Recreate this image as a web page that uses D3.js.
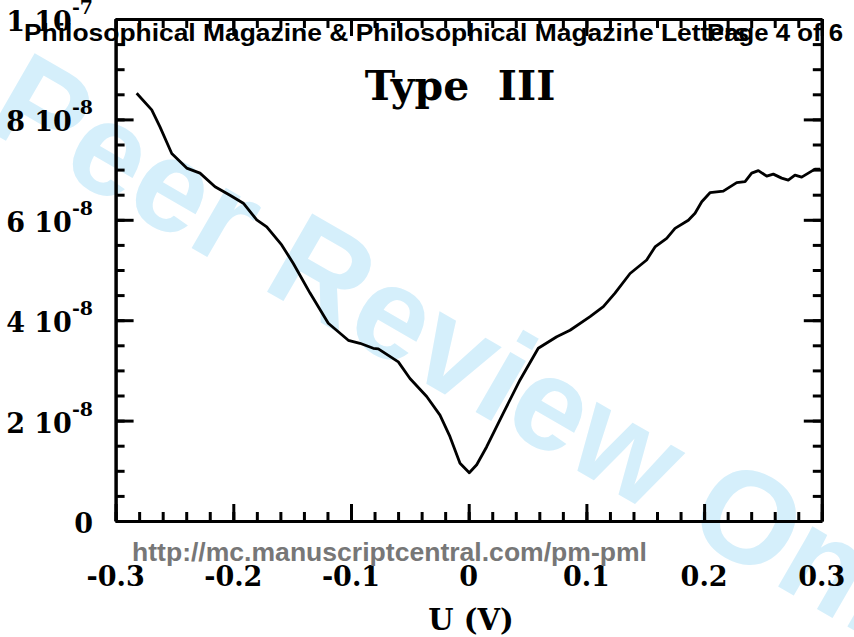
<!DOCTYPE html>
<html lang="en">
<head>
  <meta charset="UTF-8">
  <title>Type III</title>
  <script src="https://d3js.org/d3.v7.min.js"></script>
  <style>
    body { margin: 0; background: #fff; }
    svg { display: block; }
    .tick-label { font-family: "DejaVu Serif", serif; font-weight: bold; font-size: 27px; fill: #000; }
    .sans { font-family: "Liberation Sans", Arial, sans-serif; font-weight: bold; }
  </style>
</head>
<body>
  <div id="chart"></div>

  <script>
    // Data (current in A, voltage in V)
    const voltage = [-0.2821, -0.2693, -0.2623, -0.2523, -0.2396, -0.2283, -0.2155, -0.2028, -0.1915, -0.1801,
      -0.1716, -0.1589, -0.1490, -0.1348, -0.1193, -0.1023, -0.0924, -0.0811, -0.0768, -0.0598,
      -0.0499, -0.0357, -0.0244, -0.0159, -0.0074, 0.0005, 0.0068, 0.0153, 0.0294, 0.0436,
      0.0591, 0.0748, 0.0861, 0.1031, 0.1144, 0.1243, 0.1371, 0.1512, 0.1583, 0.1682,
      0.1753, 0.1866, 0.1923, 0.1980, 0.2050, 0.2163, 0.2277, 0.2348, 0.2404, 0.2461,
      0.2532, 0.2588, 0.2659, 0.2715, 0.2772, 0.2829, 0.2942, 0.2985];
    const current = [8.52, 8.19, 7.85, 7.32, 7.03, 6.93, 6.66, 6.49, 6.33, 6.00,
      5.86, 5.50, 5.13, 4.54, 3.94, 3.60, 3.54, 3.44, 3.43, 3.17,
      2.84, 2.48, 2.11, 1.68, 1.15, 0.96, 1.12, 1.48, 2.15, 2.81,
      3.44, 3.67, 3.80, 4.07, 4.27, 4.54, 4.93, 5.20, 5.46, 5.63,
      5.83, 5.99, 6.13, 6.36, 6.54, 6.57, 6.74, 6.76, 6.93, 6.98,
      6.87, 6.91, 6.83, 6.79, 6.89, 6.85, 7.01, 7.01].map(v => v * 1e-8);

    const xTicks = [-0.3, -0.2, -0.1, 0, 0.1, 0.2, 0.3];
    const xTickLabels = ["-0.3", "-0.2", "-0.1", "0", "0.1", "0.2", "0.3"];
    const yTicks = [0, 2e-8, 4e-8, 6e-8, 8e-8, 1e-7];
    const yTickMant = ["0", "2 10", "4 10", "6 10", "8 10", "1 10"];
    const yTickExp = ["", "-8", "-8", "-8", "-8", "-7"];

    const width = 854, height = 637;
    const svg = d3.select("#chart").append("svg")
      .attr("width", width).attr("height", height);

    // watermark
    svg.append("text")
      .attr("class", "sans")
      .attr("transform", "translate(-18,127) rotate(30)")
      .attr("font-size", 131)
      .attr("fill", "#d5effb")
      .text("Peer Review Only");

    const x = d3.scaleLinear().domain([-0.3, 0.3]).range([115.6, 821.8]);
    const y = d3.scaleLinear().domain([0, 1e-7]).range([521, 19]);

    const minorX = d3.range(-0.3, 0.3001, 0.02).map(v => +v.toFixed(2));
    const minorY = d3.range(0, 1.0001e-7, 5e-9);

    function styleAxis(g) {
      g.selectAll("path").attr("stroke", "#000").attr("stroke-width", 3);
      g.selectAll("line").attr("stroke", "#000").attr("stroke-width", 3);
      g.selectAll("text").remove();
    }

    // bottom and top (ticks pointing inward)
    [[521, d3.axisBottom], [19, d3.axisTop]].forEach(([pos, ax]) => {
      svg.append("g").attr("transform", `translate(0,${pos})`)
        .call(ax(x).tickValues(minorX).tickSize(-9).tickSizeOuter(0).tickFormat(""))
        .call(styleAxis);
      svg.append("g").attr("transform", `translate(0,${pos})`)
        .call(ax(x).tickValues(xTicks).tickSize(-17).tickSizeOuter(0).tickFormat(""))
        .call(styleAxis);
    });
    // left and right
    [[115.6, d3.axisLeft], [821.8, d3.axisRight]].forEach(([pos, ax]) => {
      svg.append("g").attr("transform", `translate(${pos},0)`)
        .call(ax(y).tickValues(minorY).tickSize(-9).tickSizeOuter(0).tickFormat(""))
        .call(styleAxis);
      svg.append("g").attr("transform", `translate(${pos},0)`)
        .call(ax(y).tickValues(yTicks).tickSize(-18).tickSizeOuter(0).tickFormat(""))
        .call(styleAxis);
    });

    // x tick labels
    svg.append("g").selectAll("text")
      .data(xTicks)
      .join("text")
      .attr("class", "tick-label")
      .attr("x", d => x(d))
      .attr("y", 586)
      .attr("text-anchor", "middle")
      .text((d, i) => xTickLabels[i]);

    // y tick labels with exponent
    const yl = svg.append("g").selectAll("text")
      .data(yTicks)
      .join("text")
      .attr("class", "tick-label")
      .attr("x", 93)
      .attr("y", d => y(d) + 12)
      .attr("text-anchor", "end");
    yl.append("tspan").text((d, i) => yTickMant[i]);
    yl.append("tspan")
      .attr("font-size", 19)
      .attr("dy", -17)
      .text((d, i) => yTickExp[i]);

    // curve
    const pts = voltage.map((v, i) => [v, current[i]]);
    svg.append("path")
      .datum(pts)
      .attr("fill", "none")
      .attr("stroke", "#000")
      .attr("stroke-width", 2.8)
      .attr("stroke-linejoin", "round")
      .attr("d", d3.line().x(d => x(d[0])).y(d => y(d[1])));

    // title and axis label
    svg.append("text")
      .attr("x", 460).attr("y", 100)
      .attr("text-anchor", "middle")
      .attr("font-family", "DejaVu Serif, serif")
      .attr("font-weight", "bold")
      .attr("font-size", 41)
      .style("white-space", "pre")
      .text("Type  III");

    svg.append("text")
      .attr("x", 471).attr("y", 630)
      .attr("text-anchor", "middle")
      .attr("font-family", "DejaVu Serif, serif")
      .attr("font-weight", "bold")
      .attr("font-size", 29)
      .text("U (V)");

    // page header and footer
    svg.append("text")
      .attr("class", "sans")
      .attr("x", 24).attr("y", 41)
      .attr("font-size", 23)
      .attr("textLength", 725).attr("lengthAdjust", "spacingAndGlyphs")
      .text("Philosophical Magazine & Philosophical Magazine Letters");
    svg.append("text")
      .attr("class", "sans")
      .attr("x", 707).attr("y", 41)
      .attr("font-size", 23)
      .attr("textLength", 136).attr("lengthAdjust", "spacingAndGlyphs")
      .text("Page 4 of 6");
    svg.append("text")
      .attr("class", "sans")
      .attr("x", 132).attr("y", 561)
      .attr("font-size", 26)
      .attr("fill", "#777")
      .attr("textLength", 515).attr("lengthAdjust", "spacingAndGlyphs")
      .text("http://mc.manuscriptcentral.com/pm-pml");
  </script>
</body>
</html>
